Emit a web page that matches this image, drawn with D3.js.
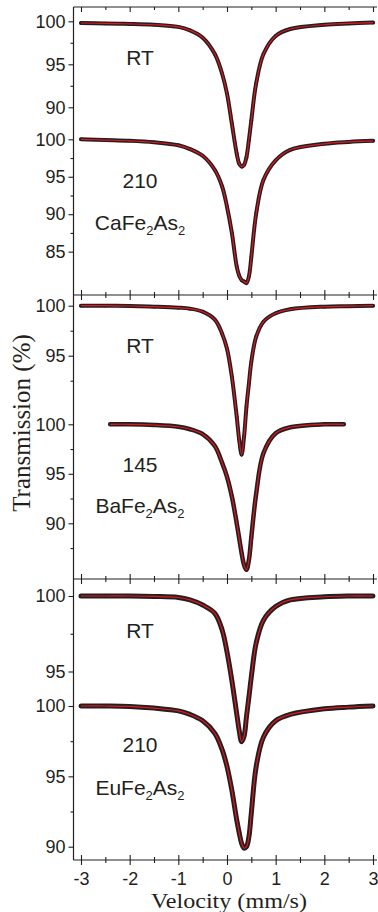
<!DOCTYPE html>
<html>
<head>
<meta charset="utf-8">
<script src="https://cdnjs.cloudflare.com/ajax/libs/d3/7.8.5/d3.min.js"></script>
<style>
  body { margin: 0; background: #fff; }
  svg { display: block; }
  .tick-label { font-family: "Liberation Sans", Arial, sans-serif; font-size: 18px; fill: #231f20; }
  .panel-label { font-family: "Liberation Sans", Arial, sans-serif; font-size: 21px; fill: #231f20; }
  .axis-title { font-family: "Liberation Serif", "Times New Roman", serif; fill: #231f20; }
</style>
</head>
<body>
<div id="chartDiv"></div>
<script>
// velocity grids (mm/s)
var velFull = [-3, -2.5, -2, -1.5, -1, -0.76, -0.5, -0.25, -0.1, 0, 0.1, 0.2, 0.25, 0.3, 0.35, 0.4, 0.45, 0.5, 0.6, 0.75, 1.0, 1.3, 2, 2.5, 3];
var velBa145 = [-2.4, -2, -1.5, -1, -0.76, -0.5, -0.25, -0.1, 0, 0.1, 0.2, 0.25, 0.3, 0.35, 0.4, 0.45, 0.5, 0.6, 0.75, 1.0, 1.3, 2, 2.4];

// transmission (%)
var caRT  = [99.8, 99.75, 99.7, 99.6, 99.35, 98.95, 98.1, 96.2, 93.9, 91.6, 88.1, 84.6, 83.45, 83.1, 83.3, 84.2, 86.2, 88.5, 92.8, 96.2, 98.3, 99.1, 99.6, 99.75, 99.85];
var ca210 = [100, 99.9, 99.8, 99.6, 99.2, 98.7, 97.8, 95.9, 93.7, 91.0, 87.5, 83.0, 81.8, 81.2, 81.0, 80.8, 81.7, 84.3, 90.1, 94.6, 97.2, 98.6, 99.4, 99.65, 99.8];
var baRT  = [100, 100, 99.97, 99.9, 99.8, 99.7, 99.4, 98.6, 97.2, 95.7, 92.9, 88.9, 86.6, 85.1, 86.9, 89.9, 92.2, 94.4, 96.9, 98.4, 99.24, 99.64, 99.9, 99.95, 100];
var ba145 = [100, 100, 99.93, 99.75, 99.5, 99.0, 97.8, 96.1, 94.7, 92.7, 90.0, 88.5, 87.0, 85.8, 85.3, 86.3, 88.6, 93.0, 97.1, 99.1, 99.7, 100, 100];
var euRT  = [100, 100, 100, 99.97, 99.9, 99.74, 99.4, 98.85, 97.75, 96.3, 94.4, 92.2, 91.1, 90.35, 90.7, 92.0, 93.3, 94.65, 96.9, 98.4, 99.3, 99.74, 99.95, 100, 100];
var eu210 = [100, 100, 99.97, 99.85, 99.65, 99.4, 98.95, 98.06, 96.9, 95.7, 94.0, 91.9, 91.0, 90.24, 89.9, 90.0, 90.7, 92.4, 95.7, 97.8, 98.95, 99.4, 99.8, 99.92, 100];

var xTicks = [-3, -2, -1, 0, 1, 2, 3];
var xMinorTicks = [-2.5, -1.5, -0.5, 0.5, 1.5, 2.5];
var tempLabels = [["RT", "210"], ["RT", "145"], ["RT", "210"]];
var compounds = [["CaFe", "As"], ["BaFe", "As"], ["EuFe", "As"]];

var width = 378, height = 912;
var ink = "#231f20", red = "#e3161e";
var frameLeft = 73.5, frameRight = 377;
var panels = [{top: 7, bottom: 295}, {top: 295, bottom: 579}, {top: 579, bottom: 860}];

var x = d3.scaleLinear().domain([-3, 3]).range([81, 373]);

// one y scale per spectrum: pixel of 100 % and pixels per percent
var spectra = [
    {vel: velFull,  val: caRT,  panel: 0, y100: 21.3,  px: 8.6,   major: [100, 95, 90],     minor: [97.5, 92.5],       band: 4},
    {vel: velFull,  val: ca210, panel: 0, y100: 139.3, px: 7.49,  major: [100, 95, 90, 85], minor: [97.5, 92.5, 87.5], band: 4},
    {vel: velFull,  val: baRT,  panel: 1, y100: 305.7, px: 10.0,  major: [100, 95],         minor: [97.5, 92.5],       band: 4},
    {vel: velBa145, val: ba145, panel: 1, y100: 424.3, px: 9.9,   major: [100, 95, 90],     minor: [97.5, 92.5, 87.5], band: 4.5},
    {vel: velFull,  val: euRT,  panel: 2, y100: 596,   px: 15.1,  major: [100, 95],         minor: [97.5],             band: 5},
    {vel: velFull,  val: eu210, panel: 2, y100: 706,   px: 14.07, major: [100, 95, 90],     minor: [97.5, 92.5],       band: 5}
];
spectra.forEach(s => {
    s.y = d3.scaleLinear().domain([100, 90]).range([s.y100, s.y100 + 10 * s.px]);
    s.points = s.vel.map((v, i) => ({v: v, t: s.val[i]}));
});

var svg = d3.select("#chartDiv").append("svg")
    .attr("width", width)
    .attr("height", height);

function cleanAxis(g) {
    g.select(".domain").remove();
    g.selectAll("line").attr("stroke", ink).attr("stroke-width", 1.1);
    g.selectAll("text").attr("class", "tick-label").attr("font-size", null).attr("font-family", null).attr("fill", ink);
}

// frames: horizontal panel edges with inward ticks, and the left axis line
panels.forEach(p => {
    svg.append("g").attr("transform", "translate(0," + p.top + ")")
        .call(d3.axisTop(x).tickValues(xTicks).tickSize(-5).tickFormat("")).call(cleanAxis);
    svg.append("g").attr("transform", "translate(0," + p.top + ")")
        .call(d3.axisTop(x).tickValues(xMinorTicks).tickSize(-3).tickFormat("")).call(cleanAxis);
    svg.append("g").attr("transform", "translate(0," + p.bottom + ")")
        .call(d3.axisBottom(x).tickValues(xTicks).tickSize(-5).tickFormat("")).call(cleanAxis);
    svg.append("g").attr("transform", "translate(0," + p.bottom + ")")
        .call(d3.axisBottom(x).tickValues(xMinorTicks).tickSize(-3).tickFormat("")).call(cleanAxis);
    svg.append("line")
        .attr("x1", frameLeft).attr("x2", frameRight)
        .attr("y1", p.top).attr("y2", p.top)
        .attr("stroke", ink).attr("stroke-width", 1.2);
});
svg.append("line")
    .attr("x1", frameLeft).attr("x2", frameRight)
    .attr("y1", 860).attr("y2", 860)
    .attr("stroke", ink).attr("stroke-width", 1.2);
svg.append("line")
    .attr("x1", frameLeft).attr("x2", frameLeft)
    .attr("y1", panels[0].top).attr("y2", 860)
    .attr("stroke", ink).attr("stroke-width", 1.2);

// outward ticks and labels on the bottom axis
svg.append("g").attr("transform", "translate(0,860)")
    .call(d3.axisBottom(x).tickValues(xTicks).tickSize(5).tickPadding(7).tickFormat(d => String(d)))
    .call(cleanAxis);
svg.append("g").attr("transform", "translate(0,860)")
    .call(d3.axisBottom(x).tickValues(xMinorTicks).tickSize(3).tickFormat(""))
    .call(cleanAxis);

// left axes, one per spectrum
spectra.forEach(s => {
    svg.append("g").attr("transform", "translate(" + frameLeft + ",0)")
        .call(d3.axisLeft(s.y).tickValues(s.major).tickSize(5).tickPadding(3).tickFormat(d3.format("d")))
        .call(cleanAxis);
    svg.append("g").attr("transform", "translate(" + frameLeft + ",0)")
        .call(d3.axisLeft(s.y).tickValues(s.minor).tickSize(3).tickFormat(""))
        .call(cleanAxis);
});

// spectra: dense data band, data dots, red fit on top
spectra.forEach(s => {
    var line = d3.line()
        .x(d => x(d.v))
        .y(d => s.y(d.t))
        .curve(d3.curveCatmullRom.alpha(0.5));

    svg.append("path")
        .datum(s.points)
        .attr("fill", "none")
        .attr("stroke", ink)
        .attr("stroke-width", s.band)
        .attr("stroke-linecap", "round")
        .attr("stroke-linejoin", "round")
        .attr("d", line);

    svg.selectAll(null)
        .data(s.points)
        .enter()
        .append("circle")
        .attr("cx", d => x(d.v))
        .attr("cy", d => s.y(d.t))
        .attr("r", 1.8)
        .attr("fill", ink);

    svg.append("path")
        .datum(s.points)
        .attr("fill", "none")
        .attr("stroke", red)
        .attr("stroke-width", 1.2)
        .attr("d", line);
});

// panel annotations
var labelX = 140;
var labelY = [[65, 188, 230], [352.7, 471.7, 512.7], [638, 751.7, 795]];
panels.forEach((p, i) => {
    svg.append("text").attr("class", "panel-label").attr("x", labelX).attr("y", labelY[i][0])
        .attr("text-anchor", "middle").text(tempLabels[i][0]);
    svg.append("text").attr("class", "panel-label").attr("x", labelX).attr("y", labelY[i][1])
        .attr("text-anchor", "middle").text(tempLabels[i][1]);
    var t = svg.append("text").attr("class", "panel-label").attr("x", labelX).attr("y", labelY[i][2])
        .attr("text-anchor", "middle");
    t.append("tspan").text(compounds[i][0]);
    t.append("tspan").attr("font-size", "13px").attr("dy", 5).text("2");
    t.append("tspan").attr("dy", -5).text(compounds[i][1]);
    t.append("tspan").attr("font-size", "13px").attr("dy", 5).text("2");
});

// axis titles
svg.append("text")
    .attr("class", "axis-title")
    .attr("font-size", 20)
    .attr("x", 229).attr("y", 908)
    .attr("text-anchor", "middle")
    .attr("textLength", 156)
    .attr("lengthAdjust", "spacingAndGlyphs")
    .text("Velocity (mm/s)");

svg.append("text")
    .attr("class", "axis-title")
    .attr("font-size", 25)
    .attr("transform", "translate(30,423) rotate(-90)")
    .attr("text-anchor", "middle")
    .text("Transmission (%)");
</script>
</body>
</html>
